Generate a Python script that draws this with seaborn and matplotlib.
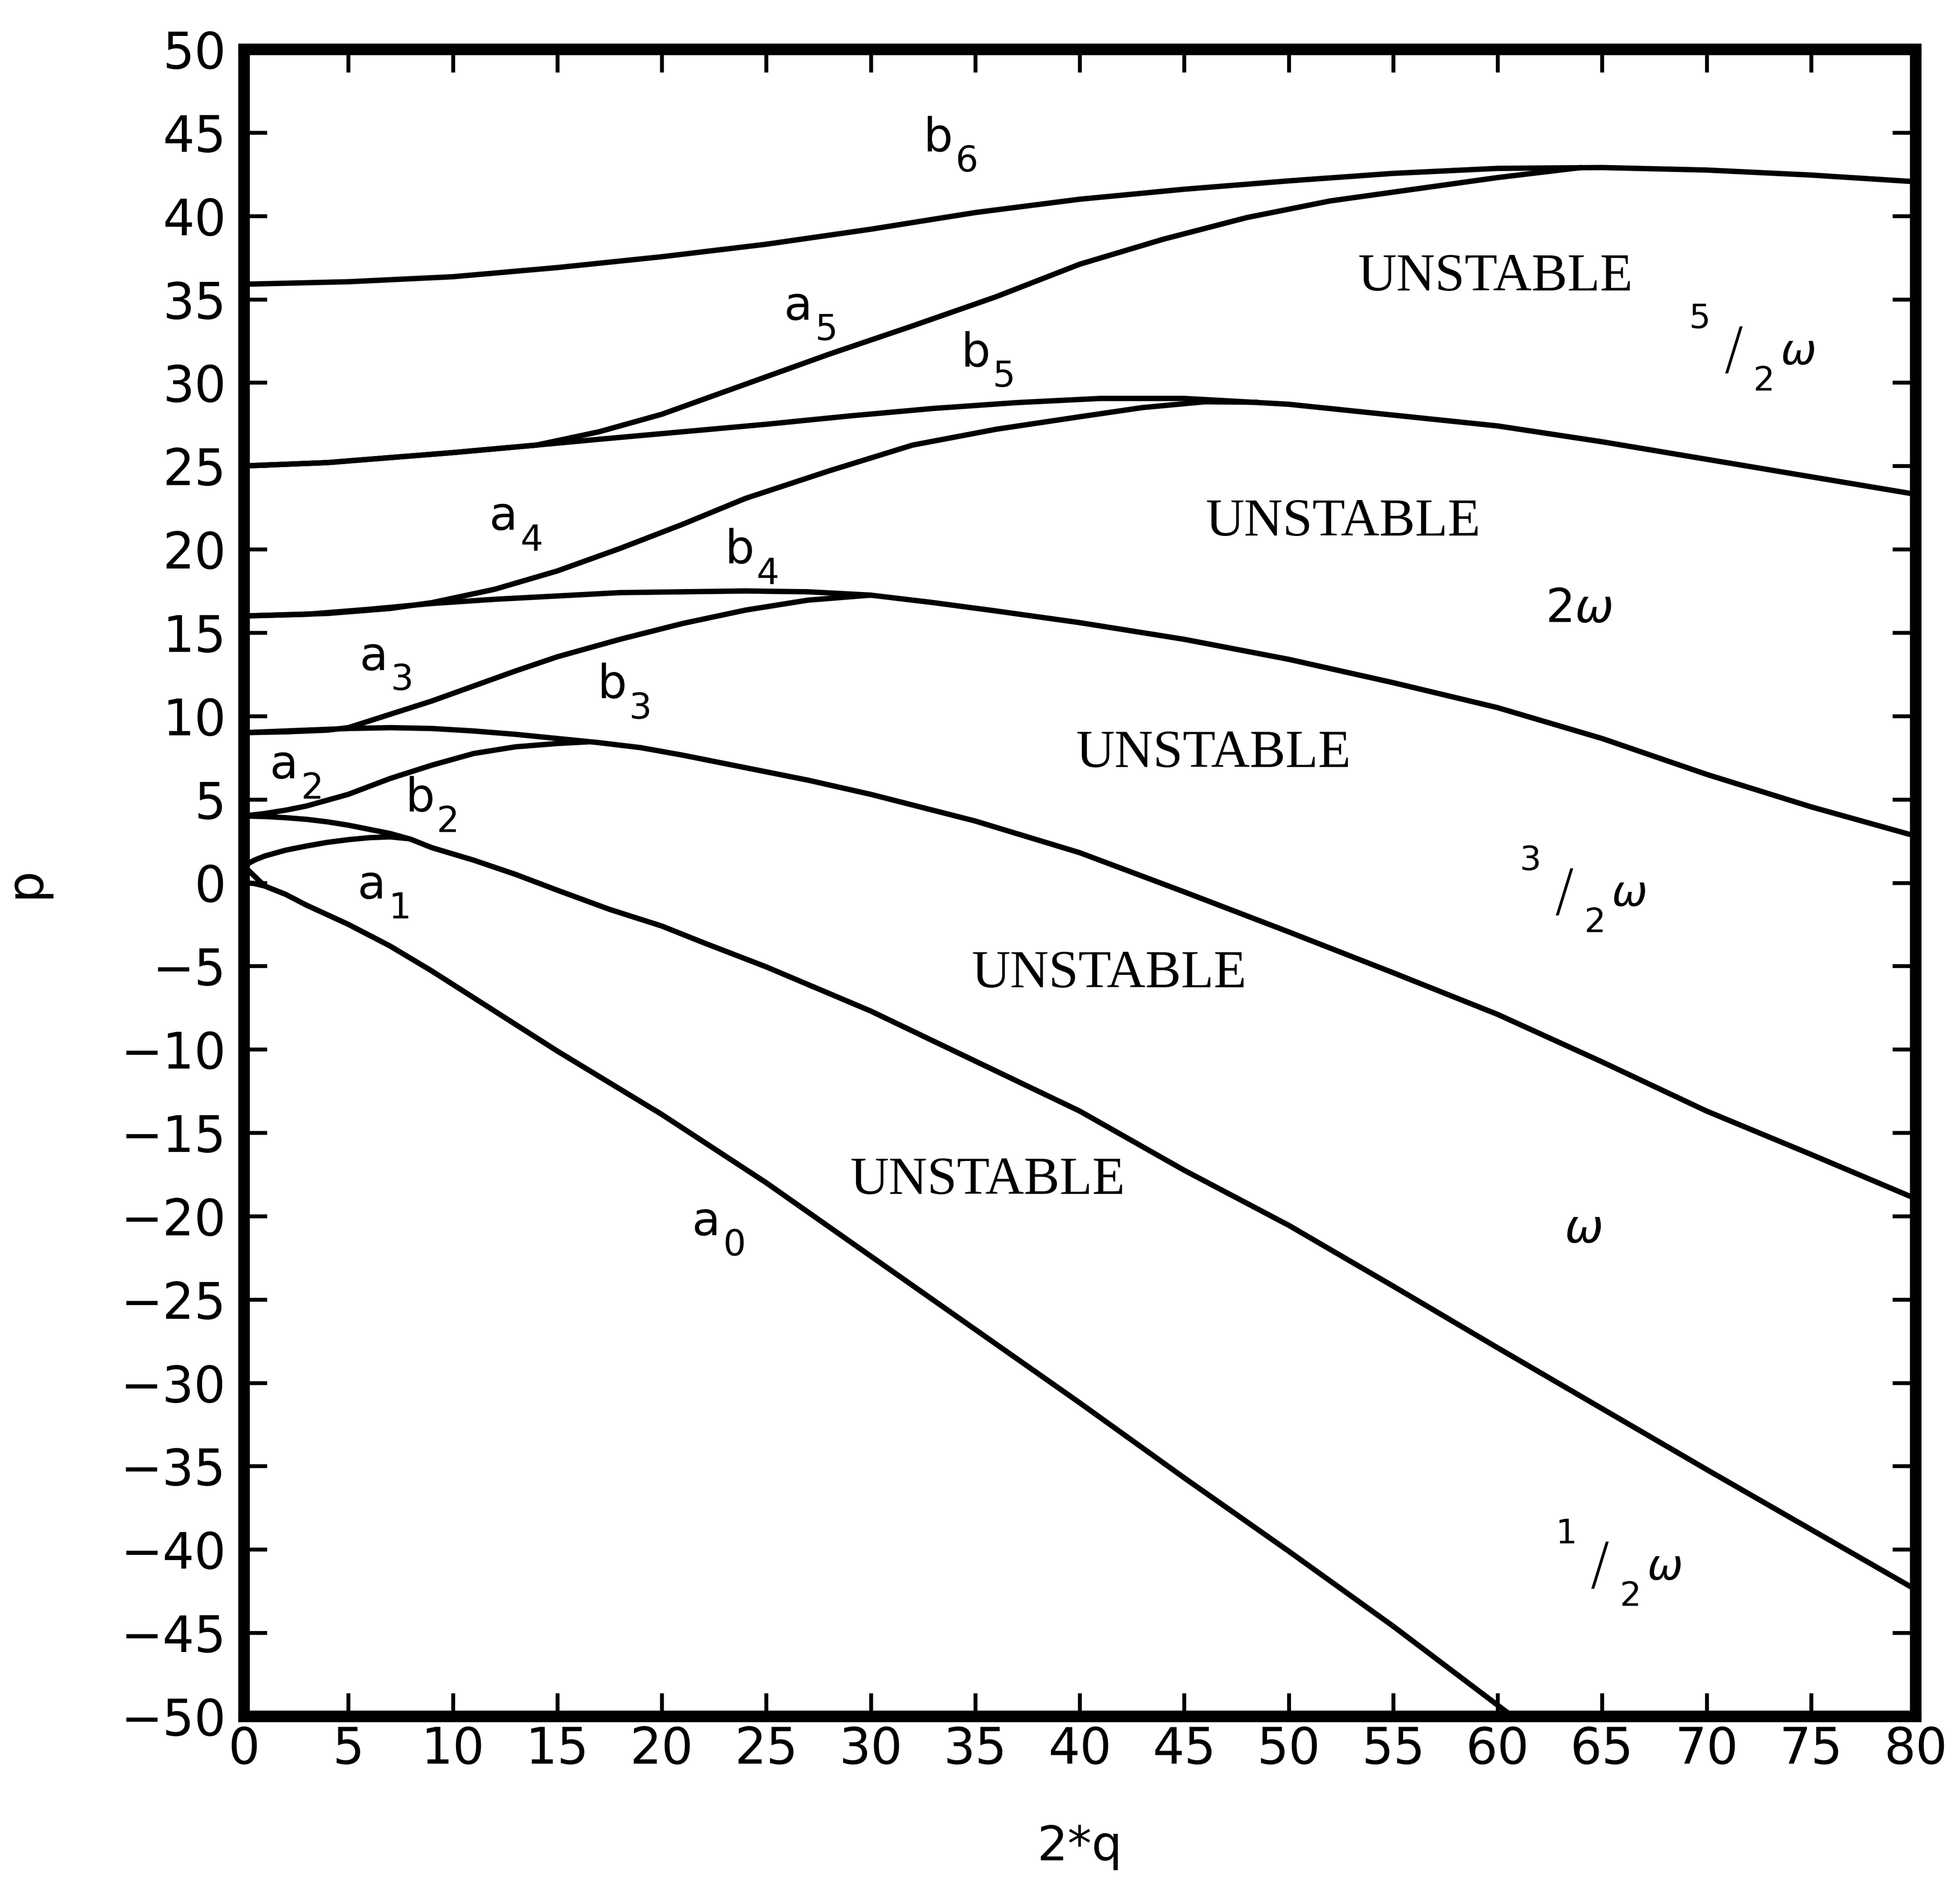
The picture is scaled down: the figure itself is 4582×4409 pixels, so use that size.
import matplotlib
matplotlib.use("Agg")
import matplotlib.pyplot as plt
import seaborn as sns

# ---------------- data ----------------
a0_x = [0, 0.5, 1, 2, 3, 5, 7, 9, 11, 13, 15, 17.5, 20, 25, 30, 35, 40, 45, 50, 55, 60.7]
a0_y = [0.0, -0.05, -0.2, -0.7, -1.35, -2.5, -3.8, -5.3, -6.9, -8.5, -10.1, -12.0, -13.9,
        -18.0, -22.4, -26.8, -31.2, -35.7, -40.1, -44.6, -50.0]

b1_x = [0, 0.5, 1.0]
b1_y = [1.0, 0.4, -0.2]

a1_x = [0, 0.5, 1, 2, 3, 4, 5, 6, 7, 7.8]
a1_y = [1.0, 1.35, 1.6, 1.95, 2.2, 2.42, 2.58, 2.7, 2.75, 2.65]

b2_x = [0, 1, 2, 3, 4, 5, 6, 7, 8, 9, 11, 13, 15, 17.5, 20, 22, 25, 30, 35, 40, 45,
        50, 55, 60, 65, 70, 75, 80]
b2_y = [4.0, 3.97, 3.9, 3.8, 3.65, 3.45, 3.2, 2.95, 2.6, 2.1, 1.35, 0.5, -0.45, -1.6,
        -2.6, -3.6, -5.05, -7.7, -10.7, -13.7, -17.25, -20.55, -24.2, -27.9, -31.55,
        -35.2, -38.8, -42.4]

a2_x = [0, 1, 2, 3, 5, 7, 9, 11, 13, 15, 16.5]
a2_y = [4.0, 4.15, 4.35, 4.6, 5.3, 6.25, 7.05, 7.75, 8.15, 8.35, 8.45]

b3_x = [0, 2, 4, 5, 7, 9, 11, 13, 15, 17, 19, 21, 24, 27, 30, 35, 40, 45, 50, 55, 60,
        65, 70, 75, 80]
b3_y = [9.0, 9.1, 9.2, 9.25, 9.3, 9.25, 9.1, 8.9, 8.65, 8.4, 8.1, 7.65, 6.9, 6.15, 5.3,
        3.7, 1.8, -0.55, -2.95, -5.4, -7.9, -10.75, -13.7, -16.3, -18.95]

a3_x = [0, 2, 4, 5, 7, 9, 11, 13, 15, 18, 21, 24, 27, 30]
a3_y = [9.0, 9.05, 9.15, 9.3, 10.1, 10.9, 11.8, 12.7, 13.55, 14.6, 15.55, 16.35, 16.95, 17.25]

b4_x = [0, 3, 6, 9, 12, 15, 18, 21, 24, 27, 30, 33, 36, 40, 45, 50, 55, 60, 65, 70, 75, 80]
b4_y = [16.0, 16.1, 16.4, 16.75, 17.0, 17.2, 17.4, 17.45, 17.5, 17.45, 17.25, 16.8, 16.3,
        15.6, 14.6, 13.4, 12.0, 10.5, 8.65, 6.5, 4.55, 2.8]

a4_x = [0, 4, 7, 9, 12, 15, 18, 21, 24, 28, 32, 36, 40, 43, 46, 48.5]
a4_y = [16.0, 16.15, 16.45, 16.8, 17.6, 18.7, 20.05, 21.5, 23.05, 24.7, 26.25, 27.2,
        27.95, 28.5, 28.85, 28.82]

b5_x = [0, 4, 7, 10, 14, 17, 21, 25, 29, 33, 37, 41, 45, 50, 55, 60, 65, 70, 75, 80]
b5_y = [25.0, 25.2, 25.5, 25.8, 26.25, 26.6, 27.05, 27.5, 28.0, 28.45, 28.8, 29.05,
        29.05, 28.7, 28.05, 27.4, 26.45, 25.4, 24.35, 23.3]

a5_x = [0, 4, 7, 10, 14, 17, 20, 24, 28, 32, 36, 40, 44, 48, 52, 56, 60, 64]
a5_y = [25.0, 25.2, 25.5, 25.8, 26.25, 27.05, 28.1, 29.9, 31.7, 33.4, 35.15, 37.1, 38.6,
        39.9, 40.9, 41.6, 42.3, 42.9]

b6_x = [0, 5, 10, 15, 20, 25, 30, 35, 40, 45, 50, 55, 60, 65, 70, 75, 80]
b6_y = [35.9, 36.05, 36.35, 36.9, 37.55, 38.3, 39.2, 40.2, 41.0, 41.6, 42.1, 42.55,
        42.85, 42.9, 42.75, 42.45, 42.05]

x_ticks = list(range(0, 81, 5))
y_ticks = list(range(-50, 51, 5))

# curve labels: (letter, index, x, y)
curve_labels = [("b", "6", 33.9, 44.0), ("a", "5", 27.2, 33.9), ("b", "5", 35.7, 31.1),
                ("a", "4", 13.1, 21.3), ("b", "4", 24.4, 19.3), ("a", "3", 6.9, 12.9),
                ("b", "3", 18.3, 11.2), ("a", "2", 2.6, 6.4), ("b", "2", 9.1, 4.4),
                ("a", "1", 6.8, -0.8), ("a", "0", 22.8, -21.0)]
unstable_pos = [(59.9, 36.3), (52.6, 21.6), (46.4, 7.7), (41.4, -5.5), (35.6, -17.9)]
frac_labels = [("5", 71.3, 31.8), ("3", 63.2, -0.7), ("1", 64.9, -41.1)]
omega_labels = [("2", 63.9, 16.4), ("", 64.1, -20.8)]

# ---------------- style ----------------
sns.set_theme(style="white", rc={
    "axes.edgecolor": "black", "text.color": "black", "axes.labelcolor": "black",
    "xtick.color": "black", "ytick.color": "black"})
plt.rcParams["font.family"] = ["DejaVu Sans"]
plt.rcParams["mathtext.fontset"] = "dejavusans"

W, H, DPI = 4582, 4409, 300
fig = plt.figure(figsize=(W / DPI, H / DPI), dpi=DPI)
fig.patch.set_facecolor("white")
ax = fig.add_axes([570 / W, 1 - 4012 / H, (4478 - 570) / W, (4012 - 115) / H])

curves = [(a0_x, a0_y), (b1_x, b1_y), (a1_x, a1_y), (b2_x, b2_y), (a2_x, a2_y),
          (b3_x, b3_y), (a3_x, a3_y), (b4_x, b4_y), (a4_x, a4_y), (b5_x, b5_y),
          (a5_x, a5_y), (b6_x, b6_y)]
for xs, ys in curves:
    sns.lineplot(x=xs, y=ys, ax=ax, color="black", linewidth=3.0, sort=False,
                 estimator=None, solid_capstyle="round", solid_joinstyle="round")

ax.set_xlim(0, 80)
ax.set_ylim(-50, 50)
ax.set_xticks(x_ticks)
ax.set_yticks(y_ticks)
ax.tick_params(axis="both", which="major", direction="in", length=13, width=2.2,
               top=True, right=True, bottom=True, left=True, labelsize=28)
ax.tick_params(axis="x", pad=5)
ax.tick_params(axis="y", pad=10)
for sp in ax.spines.values():
    sp.set_linewidth(6.5)
    sp.set_color("black")

ax.set_xlabel("2*q", fontsize=27, labelpad=28)
ax.set_ylabel("p", fontsize=28, labelpad=40)

# curve labels with lowered subscripts
for letter, idx, x, y in curve_labels:
    ax.annotate(letter, (x, y), xytext=(-8, 6), textcoords="offset points",
                ha="center", va="center", fontsize=26)
    ax.annotate(idx, (x, y), xytext=(8, -7), textcoords="offset points",
                ha="center", va="center", fontsize=20)

for x, y in unstable_pos:
    ax.text(x, y, "UNSTABLE", ha="center", va="center", fontsize=30,
            family=["Liberation Serif", "DejaVu Serif"])

for num, x, y in frac_labels:
    ax.annotate("/", (x, y), xytext=(0, 0), textcoords="offset points",
                ha="center", va="center", fontsize=32, fontweight="light")
    ax.annotate(num, (x, y), xytext=(-19, 19), textcoords="offset points",
                ha="center", va="center", fontsize=19)
    ax.annotate("2", (x, y), xytext=(17, -16), textcoords="offset points",
                ha="center", va="center", fontsize=19)
    ax.annotate(r"$\omega$", (x, y), xytext=(36, 0), textcoords="offset points",
                ha="center", va="center", fontsize=24)

for pre, x, y in omega_labels:
    ax.text(x, y, pre + r"$\omega$", ha="center", va="center", fontsize=26)

fig.savefig("out.png", dpi=DPI, facecolor="white")
